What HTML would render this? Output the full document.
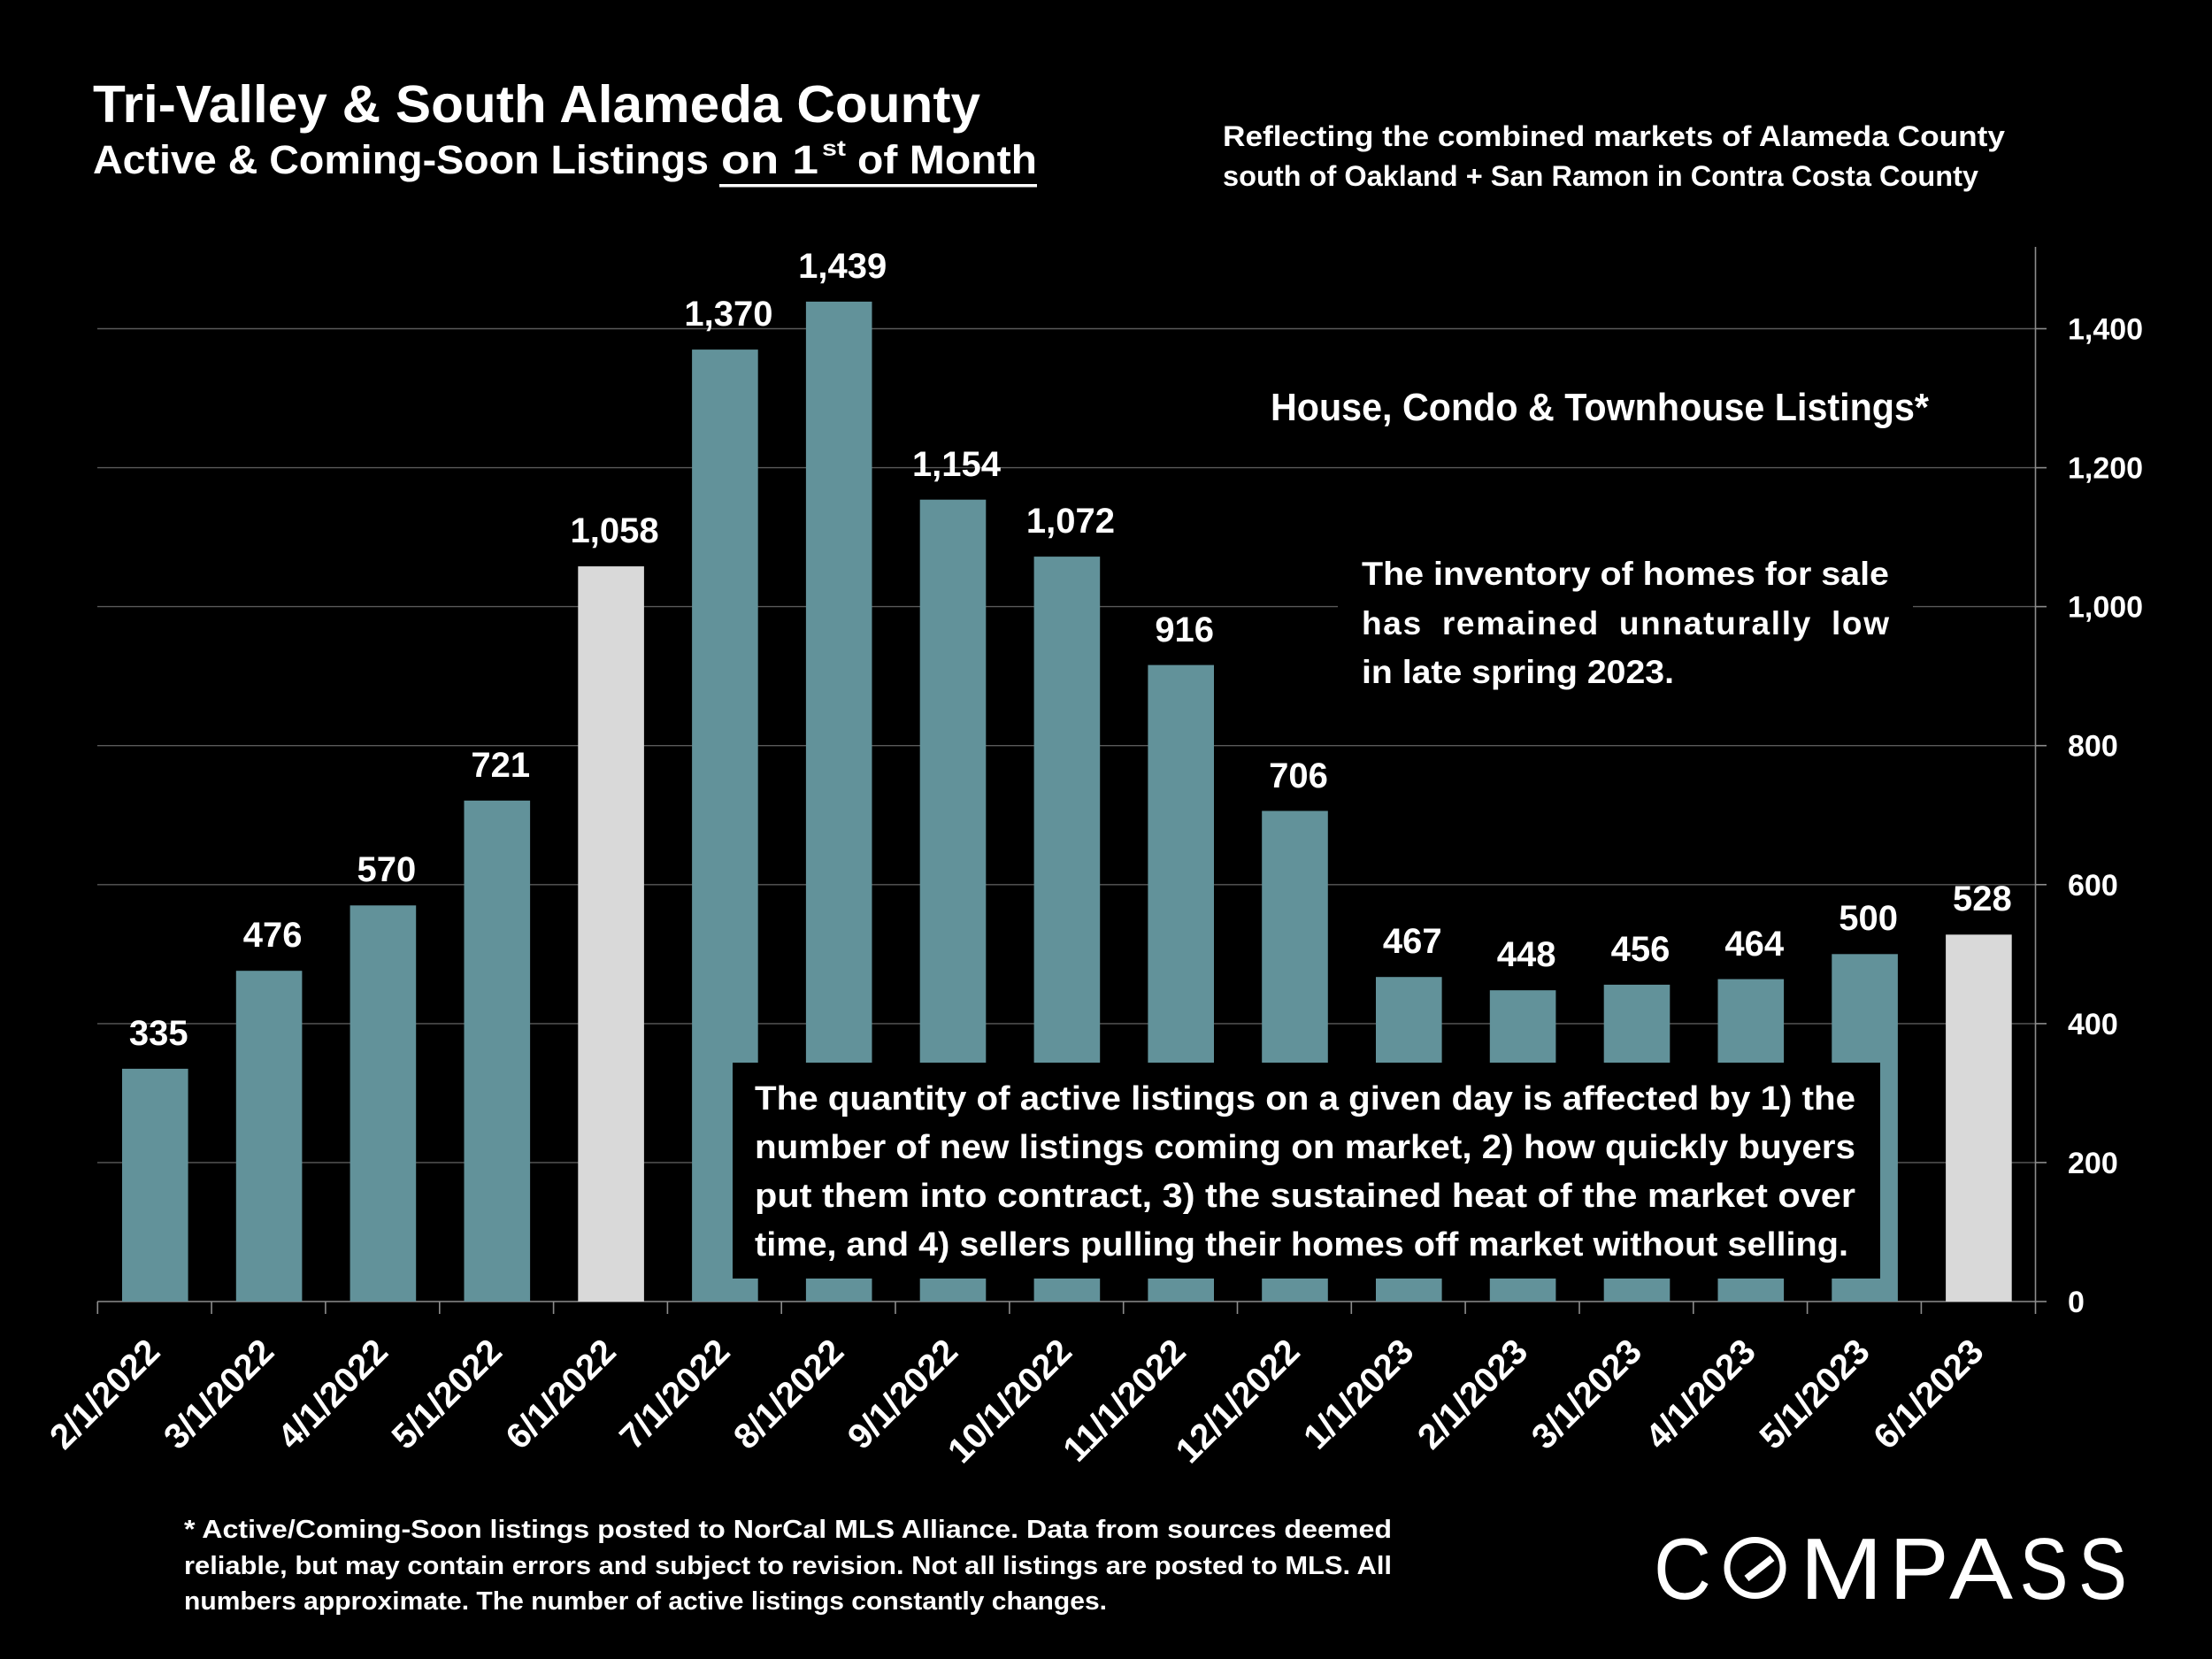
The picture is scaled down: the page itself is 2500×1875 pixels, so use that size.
<!DOCTYPE html>
<html>
<head>
<meta charset="utf-8">
<style>
  html, body { margin: 0; padding: 0; background: #000; }
  body { width: 2500px; height: 1875px; overflow: hidden; }
  svg { display: block; }
  text { font-family: "Liberation Sans", Arial, sans-serif; font-weight: bold; fill: #ffffff; }
</style>
</head>
<body>
<svg xmlns="http://www.w3.org/2000/svg" width="2500" height="1875" viewBox="0 0 2500 1875">
  <rect x="0" y="0" width="2500" height="1875" fill="#000"/>

  <!-- Title -->
  <text x="105" y="138" font-size="59" textLength="1003" lengthAdjust="spacingAndGlyphs">Tri-Valley &amp; South Alameda County</text>
  <text x="105" y="196" font-size="45" textLength="696" lengthAdjust="spacingAndGlyphs">Active &amp; Coming-Soon Listings</text>
  <text x="815" y="196" font-size="45" textLength="110" lengthAdjust="spacingAndGlyphs">on 1</text>
  <text x="929" y="176" font-size="25" textLength="27" lengthAdjust="spacingAndGlyphs">st</text>
  <text x="969" y="196" font-size="45" textLength="203" lengthAdjust="spacingAndGlyphs">of Month</text>
  <rect x="813" y="208" width="359" height="3.5" fill="#fff"/>

  <!-- Subtitle right -->
  <text x="1382" y="165" font-size="32" textLength="884" lengthAdjust="spacingAndGlyphs">Reflecting the combined markets of Alameda County</text>
  <text x="1382" y="210" font-size="32" textLength="854" lengthAdjust="spacingAndGlyphs">south of Oakland + San Ramon in Contra Costa County</text>

  <!-- Gridlines -->
  <g stroke="#5a5a5a" stroke-width="1.4">
    <line x1="110" y1="371.5" x2="2300" y2="371.5"/>
    <line x1="110" y1="528.6" x2="2300" y2="528.6"/>
    <line x1="110" y1="685.6" x2="2300" y2="685.6"/>
    <line x1="110" y1="842.7" x2="2300" y2="842.7"/>
    <line x1="110" y1="999.8" x2="2300" y2="999.8"/>
    <line x1="110" y1="1156.9" x2="2300" y2="1156.9"/>
    <line x1="110" y1="1313.9" x2="2300" y2="1313.9"/>
  </g>

  <!-- Right axis + ticks -->
  <g stroke="#8c8c8c" stroke-width="1.6">
    <line x1="2300.5" y1="279" x2="2300.5" y2="1485"/>
    <line x1="2300" y1="371.5" x2="2313" y2="371.5"/>
    <line x1="2300" y1="528.6" x2="2313" y2="528.6"/>
    <line x1="2300" y1="685.6" x2="2313" y2="685.6"/>
    <line x1="2300" y1="842.7" x2="2313" y2="842.7"/>
    <line x1="2300" y1="999.8" x2="2313" y2="999.8"/>
    <line x1="2300" y1="1156.9" x2="2313" y2="1156.9"/>
    <line x1="2300" y1="1313.9" x2="2313" y2="1313.9"/>
    <line x1="2300" y1="1471" x2="2313" y2="1471"/>
    <!-- x axis -->
    <line x1="110" y1="1471" x2="2300" y2="1471"/>
    <line x1="110.3" y1="1471" x2="110.3" y2="1485"/>
    <line x1="239.1" y1="1471" x2="239.1" y2="1485"/>
    <line x1="367.9" y1="1471" x2="367.9" y2="1485"/>
    <line x1="496.8" y1="1471" x2="496.8" y2="1485"/>
    <line x1="625.6" y1="1471" x2="625.6" y2="1485"/>
    <line x1="754.4" y1="1471" x2="754.4" y2="1485"/>
    <line x1="883.2" y1="1471" x2="883.2" y2="1485"/>
    <line x1="1012.0" y1="1471" x2="1012.0" y2="1485"/>
    <line x1="1140.9" y1="1471" x2="1140.9" y2="1485"/>
    <line x1="1269.7" y1="1471" x2="1269.7" y2="1485"/>
    <line x1="1398.5" y1="1471" x2="1398.5" y2="1485"/>
    <line x1="1527.3" y1="1471" x2="1527.3" y2="1485"/>
    <line x1="1656.1" y1="1471" x2="1656.1" y2="1485"/>
    <line x1="1785.0" y1="1471" x2="1785.0" y2="1485"/>
    <line x1="1913.8" y1="1471" x2="1913.8" y2="1485"/>
    <line x1="2042.6" y1="1471" x2="2042.6" y2="1485"/>
    <line x1="2171.4" y1="1471" x2="2171.4" y2="1485"/>
  </g>

  <!-- Y-axis labels -->
  <g font-size="34">
    <text x="2337" y="383.5">1,400</text>
    <text x="2337" y="540.6">1,200</text>
    <text x="2337" y="697.6">1,000</text>
    <text x="2337" y="854.7">800</text>
    <text x="2337" y="1011.8">600</text>
    <text x="2337" y="1168.9">400</text>
    <text x="2337" y="1325.9">200</text>
    <text x="2337" y="1483">0</text>
  </g>

  <!-- Bars -->
  <g fill="#62929a">
    <rect x="138.0" y="1207.9" width="74.6" height="263.1"/>
    <rect x="266.8" y="1097.2" width="74.6" height="373.8"/>
    <rect x="395.6" y="1023.3" width="74.6" height="447.7"/>
    <rect x="524.5" y="904.8" width="74.6" height="566.2"/>
    <rect x="782.1" y="395.1" width="74.6" height="1075.9"/>
    <rect x="910.9" y="340.9" width="74.6" height="1130.1"/>
    <rect x="1039.7" y="564.7" width="74.6" height="906.3"/>
    <rect x="1168.6" y="629.1" width="74.6" height="841.9"/>
    <rect x="1297.4" y="751.6" width="74.6" height="719.4"/>
    <rect x="1426.2" y="916.5" width="74.6" height="554.5"/>
    <rect x="1555.0" y="1104.2" width="74.6" height="366.8"/>
    <rect x="1683.8" y="1119.2" width="74.6" height="351.8"/>
    <rect x="1812.7" y="1112.9" width="74.6" height="358.1"/>
    <rect x="1941.5" y="1106.6" width="74.6" height="364.4"/>
    <rect x="2070.3" y="1078.3" width="74.6" height="392.7"/>
  </g>
  <g fill="#d9d9d9">
    <rect x="653.3" y="640.1" width="74.6" height="830.9"/>
    <rect x="2199.1" y="1056.3" width="74.6" height="414.7"/>
  </g>

  <!-- Value labels -->
  <g font-size="40" text-anchor="middle">
    <text x="179.3" y="1181">335</text>
    <text x="308.1" y="1070">476</text>
    <text x="436.9" y="996">570</text>
    <text x="565.8" y="878">721</text>
    <text x="694.6" y="613">1,058</text>
    <text x="823.4" y="368">1,370</text>
    <text x="952.2" y="314">1,439</text>
    <text x="1081.0" y="538">1,154</text>
    <text x="1209.9" y="602">1,072</text>
    <text x="1338.7" y="725">916</text>
    <text x="1467.5" y="890">706</text>
    <text x="1596.3" y="1077">467</text>
    <text x="1725.1" y="1092">448</text>
    <text x="1854.0" y="1086">456</text>
    <text x="1982.8" y="1080">464</text>
    <text x="2111.6" y="1051">500</text>
    <text x="2240.4" y="1029">528</text>
  </g>

  <!-- X labels -->
  <g font-size="40" text-anchor="end">
    <text transform="translate(183,1530) rotate(-45)">2/1/2022</text>
    <text transform="translate(311.8,1530) rotate(-45)">3/1/2022</text>
    <text transform="translate(440.6,1530) rotate(-45)">4/1/2022</text>
    <text transform="translate(569.5,1530) rotate(-45)">5/1/2022</text>
    <text transform="translate(698.3,1530) rotate(-45)">6/1/2022</text>
    <text transform="translate(827.1,1530) rotate(-45)">7/1/2022</text>
    <text transform="translate(955.9,1530) rotate(-45)">8/1/2022</text>
    <text transform="translate(1084.7,1530) rotate(-45)">9/1/2022</text>
    <text transform="translate(1213.6,1530) rotate(-45)">10/1/2022</text>
    <text transform="translate(1342.4,1530) rotate(-45)">11/1/2022</text>
    <text transform="translate(1471.2,1530) rotate(-45)">12/1/2022</text>
    <text transform="translate(1600.0,1530) rotate(-45)">1/1/2023</text>
    <text transform="translate(1728.8,1530) rotate(-45)">2/1/2023</text>
    <text transform="translate(1857.7,1530) rotate(-45)">3/1/2023</text>
    <text transform="translate(1986.5,1530) rotate(-45)">4/1/2023</text>
    <text transform="translate(2115.3,1530) rotate(-45)">5/1/2023</text>
    <text transform="translate(2244.1,1530) rotate(-45)">6/1/2023</text>
  </g>

  <!-- House label -->
  <text x="1436" y="475" font-size="44" textLength="744" lengthAdjust="spacingAndGlyphs">House, Condo &amp; Townhouse Listings*</text>

  <!-- Inventory note -->
  <rect x="1512" y="592" width="650" height="212" fill="#000"/>
  <text x="1539" y="661" font-size="37" textLength="596" lengthAdjust="spacingAndGlyphs">The inventory of homes for sale</text>
  <text x="1539" y="717" font-size="37" textLength="596" lengthAdjust="spacing" style="word-spacing:10px">has remained unnaturally low</text>
  <text x="1539" y="772" font-size="37" textLength="353" lengthAdjust="spacingAndGlyphs">in late spring 2023.</text>

  <!-- Annotation box -->
  <rect x="828" y="1201" width="1297" height="244" fill="#000"/>
  <g font-size="38">
    <text x="853" y="1254" textLength="1244" lengthAdjust="spacingAndGlyphs">The quantity of active listings on a given day is affected by 1) the</text>
    <text x="853" y="1309" textLength="1244" lengthAdjust="spacingAndGlyphs">number of new listings coming on market, 2) how quickly buyers</text>
    <text x="853" y="1364" textLength="1244" lengthAdjust="spacingAndGlyphs">put them into contract, 3) the sustained heat of the market over</text>
    <text x="853" y="1419" textLength="1236" lengthAdjust="spacingAndGlyphs">time, and 4) sellers pulling their homes off market without selling.</text>
  </g>

  <!-- Footer -->
  <g font-size="29">
    <text x="208" y="1738" textLength="1365" lengthAdjust="spacingAndGlyphs">*  Active/Coming-Soon listings posted to NorCal MLS Alliance.  Data from sources deemed</text>
    <text x="208" y="1779" textLength="1365" lengthAdjust="spacingAndGlyphs">reliable, but may contain errors and subject to revision.  Not all listings are posted to MLS. All</text>
    <text x="208" y="1819" textLength="1043" lengthAdjust="spacingAndGlyphs">numbers approximate. The number of active listings constantly changes.</text>
  </g>

  <!-- COMPASS logo -->
  <g style="font-weight:normal" font-size="98" text-anchor="middle">
    <text x="1901.5" y="1807" style="font-weight:normal" textLength="65" lengthAdjust="spacingAndGlyphs">C</text>
    <text x="2081" y="1807" style="font-weight:normal" textLength="94" lengthAdjust="spacingAndGlyphs">M</text>
    <text x="2169" y="1807" style="font-weight:normal" textLength="67" lengthAdjust="spacingAndGlyphs">P</text>
    <text x="2239" y="1807" style="font-weight:normal" textLength="72" lengthAdjust="spacingAndGlyphs">A</text>
    <text x="2310" y="1807" style="font-weight:normal" textLength="55" lengthAdjust="spacingAndGlyphs">S</text>
    <text x="2376.5" y="1807" style="font-weight:normal" textLength="55" lengthAdjust="spacingAndGlyphs">S</text>
  </g>
  <circle cx="1983.5" cy="1772" r="31.5" fill="none" stroke="#fff" stroke-width="7"/>
  <line x1="1974" y1="1784" x2="2003" y2="1761" stroke="#fff" stroke-width="8"/>
</svg>
</body>
</html>
